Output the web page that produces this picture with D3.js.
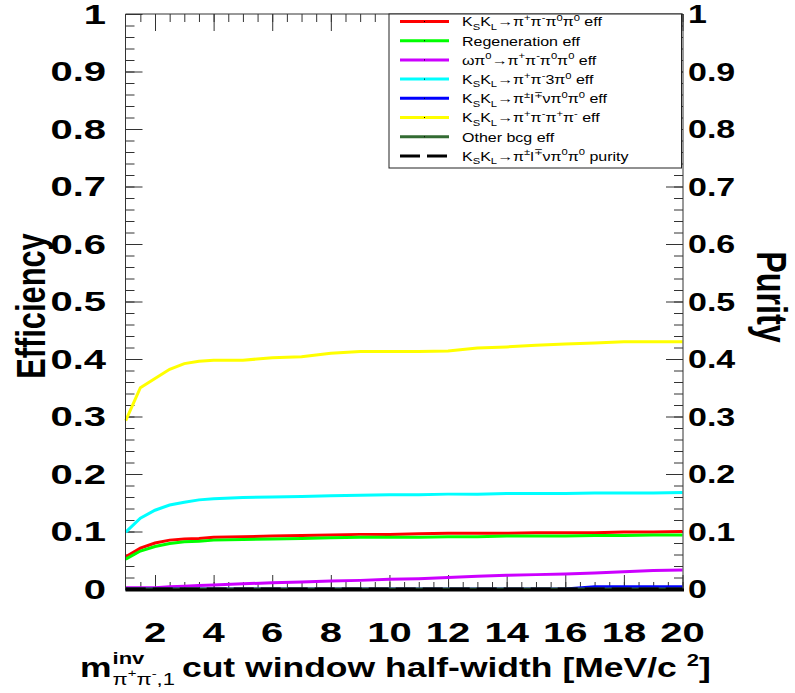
<!DOCTYPE html>
<html>
<head>
<meta charset="utf-8">
<script src="https://cdn.jsdelivr.net/npm/d3@7"></script>
<style>
  body { margin: 0; background: #fff; }
  text { font-family: "Liberation Sans", Arial, sans-serif; fill: #000; }
</style>
</head>
<body>
<div id="chart"></div>
<script>
// cut window half-width points
var cutWidth = [1, 1.5, 2, 2.5, 3, 3.5, 4, 5, 6, 7, 8, 9, 10, 11, 12, 13, 14, 15, 16, 17, 18, 19, 20];

var effSignal   = [0.056, 0.071, 0.080, 0.085, 0.087, 0.088, 0.090, 0.091, 0.092, 0.093, 0.094, 0.095, 0.095, 0.096, 0.097, 0.097, 0.097, 0.098, 0.098, 0.098, 0.099, 0.099, 0.100];
var effRegen    = [0.052, 0.066, 0.074, 0.079, 0.082, 0.083, 0.085, 0.086, 0.087, 0.088, 0.089, 0.090, 0.090, 0.090, 0.091, 0.091, 0.092, 0.092, 0.092, 0.093, 0.093, 0.094, 0.094];
var effOmega    = [0.002, 0.002, 0.002, 0.004, 0.005, 0.006, 0.007, 0.009, 0.011, 0.012, 0.014, 0.015, 0.017, 0.018, 0.020, 0.022, 0.024, 0.025, 0.026, 0.028, 0.030, 0.032, 0.033];
var eff3pi0     = [0.099, 0.123, 0.137, 0.146, 0.151, 0.155, 0.157, 0.159, 0.160, 0.161, 0.162, 0.163, 0.164, 0.164, 0.165, 0.165, 0.166, 0.166, 0.166, 0.167, 0.167, 0.167, 0.168];
var effSemi     = [0, 0, 0, 0, 0, 0, 0, 0, 0, 0, 0, 0, 0, 0, 0, 0, 0, 0, 0, 0.004, 0.004, 0.004, 0.004];
var eff4pic     = [0.293, 0.350, 0.366, 0.382, 0.392, 0.396, 0.398, 0.398, 0.402, 0.404, 0.410, 0.413, 0.413, 0.413, 0.414, 0.419, 0.421, 0.424, 0.426, 0.428, 0.430, 0.430, 0.430];
var effOther    = [0, 0, 0, 0, 0, 0, 0, 0, 0, 0, 0, 0, 0, 0, 0, 0, 0, 0, 0, 0, 0, 0, 0];
var puritySemi  = [0, 0, 0, 0, 0, 0, 0, 0, 0, 0, 0, 0, 0, 0, 0, 0, 0, 0, 0, 0, 0, 0, 0];

var xTicks = [2, 4, 6, 8, 10, 12, 14, 16, 18, 20];
var yTicks = [0, 0.1, 0.2, 0.3, 0.4, 0.5, 0.6, 0.7, 0.8, 0.9, 1];

// legend labels: [text, "" | "b" (subscript) | "p" (superscript)]
var legendLabels = [
  [["K",""],["S","b"],["K",""],["L","b"],["\u2192\u03c0",""],["+","p"],["\u03c0",""],["-","p"],["\u03c0",""],["0","p"],["\u03c0",""],["0","p"],[" eff",""]],
  [["Regeneration eff",""]],
  [["\u03c9\u03c0",""],["0","p"],["\u2192\u03c0",""],["+","p"],["\u03c0",""],["-","p"],["\u03c0",""],["0","p"],["\u03c0",""],["0","p"],[" eff",""]],
  [["K",""],["S","b"],["K",""],["L","b"],["\u2192\u03c0",""],["+","p"],["\u03c0",""],["-","p"],["3\u03c0",""],["0","p"],[" eff",""]],
  [["K",""],["S","b"],["K",""],["L","b"],["\u2192\u03c0",""],["\u00b1","p"],["l",""],["\u2213","p"],["\u03bd\u03c0",""],["0","p"],["\u03c0",""],["0","p"],[" eff",""]],
  [["K",""],["S","b"],["K",""],["L","b"],["\u2192\u03c0",""],["+","p"],["\u03c0",""],["-","p"],["\u03c0",""],["+","p"],["\u03c0",""],["-","p"],[" eff",""]],
  [["Other bcg eff",""]],
  [["K",""],["S","b"],["K",""],["L","b"],["\u2192\u03c0",""],["\u00b1","p"],["l",""],["\u2213","p"],["\u03bd\u03c0",""],["0","p"],["\u03c0",""],["0","p"],[" purity",""]]
];

var series = [
  {values: effSignal,  color: "#ff0000", dash: null},
  {values: effRegen,   color: "#00ff00", dash: null},
  {values: effOmega,   color: "#cc00ff", dash: null},
  {values: eff3pi0,    color: "#00ffff", dash: null},
  {values: effSemi,    color: "#0000ff", dash: null},
  {values: eff4pic,    color: "#ffff00", dash: null},
  {values: effOther,   color: "#336b33", dash: null},
  {values: puritySemi, color: "#000000", dash: "20,7"}
];

var W = 795, H = 693;
var sy = 0.77;   // vertical squash of all text
var padL = 125.5, padR = 683, padT = 14, padB = 589;

var svg = d3.select("#chart").append("svg")
    .attr("width", W)
    .attr("height", H);

var x = d3.scaleLinear().domain([1, 20]).range([padL + 0.2, 682.5]);
var y = d3.scaleLinear().domain([0, 1]).range([padB, padT]);

function stext(px, py, str, size, weight, anchor, sq) {
  sq = sq || sy;
  return svg.append("text")
    .attr("transform", "translate(" + px + "," + py + ") scale(1," + sq + ")")
    .attr("text-anchor", anchor)
    .style("font-size", size + "px")
    .style("font-weight", weight)
    .text(str);
}

function tickFmt(d) { return (d === 0 || d === 1) ? String(d) : d.toFixed(1); }

// ---- ticks (inward) ----
var minorX = d3.range(1.5, 20.01, 0.5);
var minorY = d3.range(0, 1.001, 0.02);
var tickCol = "#333";

svg.append("g").attr("transform", "translate(0," + padB + ")")
  .call(d3.axisTop(x).tickValues(minorX).tickSize(7).tickFormat(""));
svg.append("g").attr("transform", "translate(0," + padB + ")")
  .call(d3.axisTop(x).tickValues(xTicks).tickSize(14).tickFormat(""));
svg.append("g").attr("transform", "translate(0," + padT + ")")
  .call(d3.axisBottom(x).tickValues(minorX).tickSize(8).tickFormat(""));
svg.append("g").attr("transform", "translate(0," + padT + ")")
  .call(d3.axisBottom(x).tickValues(xTicks).tickSize(17).tickFormat(""));
svg.append("g").attr("transform", "translate(" + padL + ",0)")
  .call(d3.axisRight(y).tickValues(minorY).tickSize(9).tickFormat(""));
svg.append("g").attr("transform", "translate(" + padL + ",0)")
  .call(d3.axisRight(y).tickValues(yTicks).tickSize(17).tickFormat(""));
svg.append("g").attr("transform", "translate(" + padR + ",0)")
  .call(d3.axisLeft(y).tickValues(minorY).tickSize(9).tickFormat(""));
svg.append("g").attr("transform", "translate(" + padR + ",0)")
  .call(d3.axisLeft(y).tickValues(yTicks).tickSize(17).tickFormat(""));
svg.selectAll(".domain").remove();
svg.selectAll(".tick line").attr("stroke", tickCol);

// ---- curves ----
var line = d3.line()
  .x(function (d, i) { return x(cutWidth[i]); })
  .y(function (d) { return y(d); });

series.forEach(function (s) {
  svg.append("path")
    .datum(s.values)
    .attr("d", line)
    .attr("fill", "none")
    .attr("stroke", s.color)
    .attr("stroke-width", 3)
    .attr("stroke-dasharray", s.dash);
});

// ---- frame ----
svg.append("line").attr("x1", padL).attr("x2", padR).attr("y1", padT).attr("y2", padT).attr("stroke", tickCol);
svg.append("line").attr("x1", padL).attr("x2", padL).attr("y1", padT).attr("y2", padB).attr("stroke", tickCol);
svg.append("line").attr("x1", padR).attr("x2", padR).attr("y1", padT).attr("y2", padB).attr("stroke", tickCol);
svg.append("line").attr("x1", padL).attr("x2", padR + 1).attr("y1", padB + 1).attr("y2", padB + 1)
  .attr("stroke", "#000").attr("stroke-width", 3);

// ---- legend ----
var lg = {x0: 389, x1: 681.5, y0: 14, y1: 168};
svg.append("rect")
  .attr("x", lg.x0).attr("y", lg.y0)
  .attr("width", lg.x1 - lg.x0).attr("height", lg.y1 - lg.y0)
  .attr("fill", "#fff").attr("stroke", "#222").attr("stroke-width", 1);

var lgSize = 16, lgSy = 0.84;
legendLabels.forEach(function (segs, i) {
  var ry = 21.5 + i * 19.2;
  var s = series[i];
  svg.append("line")
    .attr("x1", 400).attr("x2", 449).attr("y1", ry).attr("y2", ry)
    .attr("stroke", s.color).attr("stroke-width", 3)
    .attr("stroke-dasharray", s.dash);
  // tiny marker in the middle of the solid sample lines
  if (!s.dash) {
    svg.append("rect")
      .attr("x", 424).attr("y", ry - 0.5).attr("width", 1).attr("height", 1)
      .attr("fill", "#000");
  }
  var t = stext(462, ry + 0.36 * lgSize * lgSy, "", lgSize, "normal", "start", lgSy);
  var shift = 0;
  segs.forEach(function (sg) {
    var target = sg[1] === "p" ? -0.4 * lgSize : (sg[1] === "b" ? 0.25 * lgSize : 0);
    t.append("tspan")
      .attr("dy", target - shift)
      .style("font-size", (sg[1] ? lgSize * 0.7 : lgSize) + "px")
      .text(sg[0]);
    shift = target;
  });
});

// ---- tick labels ----
var lblSize = 40, lblSy = 0.68;   // frame axes
var rLblSize = 34;                // right-hand purity axis
yTicks.forEach(function (d) {
  stext(106, y(d) + 0.36 * lblSize * lblSy, tickFmt(d), lblSize, "bold", "end", lblSy);
  stext(688, y(d) + 0.36 * rLblSize * sy, tickFmt(d), rLblSize, "bold", "start");
});
xTicks.forEach(function (d) {
  stext(x(d), 642, String(d), lblSize, "bold", "middle", lblSy);
});

// ---- axis titles ----
svg.append("text")
  .attr("transform", "translate(45,306) scale(1," + sy + ") rotate(-90)")
  .attr("text-anchor", "middle")
  .style("font-size", "40px").style("font-weight", "bold")
  .text("Efficiency");

svg.append("text")
  .attr("transform", "translate(757,297) scale(1," + sy + ") rotate(90)")
  .attr("text-anchor", "middle")
  .style("font-size", "42px").style("font-weight", "bold")
  .text("Purity");

var tSize = 35.5;
var xt = svg.append("g").attr("transform", "translate(80,677) scale(1," + sy + ")");
var mTxt = xt.append("text").style("font-size", tSize + "px").style("font-weight", "bold").text("m");
var mW = mTxt.node().getComputedTextLength();
var supTxt = xt.append("text").attr("x", mW + 1).attr("y", -0.48 * tSize)
  .style("font-size", (tSize * 0.62) + "px").style("font-weight", "bold").text("inv");
var subTxt = xt.append("text").attr("x", mW + 1).attr("y", 0.3 * tSize)
  .style("font-size", (tSize * 0.62) + "px").style("font-weight", "normal");
[["\u03c0",0],["+",1],["\u03c0",0],["-",1],[",1",0]].forEach(function (p, i, arr) {
  var prev = i > 0 ? arr[i - 1][1] : 0;
  subTxt.append("tspan")
    .attr("dy", (p[1] - prev) * -0.3 * tSize)
    .style("font-size", (p[1] ? tSize * 0.42 : tSize * 0.62) + "px")
    .text(p[0]);
});
var scriptW = Math.max(supTxt.node().getComputedTextLength(), subTxt.node().getComputedTextLength());
var restX = mW + 1 + scriptW + 7;
var rest = xt.append("text").attr("x", restX)
  .style("font-size", tSize + "px").style("font-weight", "bold");
rest.append("tspan").text("cut window half-width [MeV/c ");
rest.append("tspan").attr("dy", -0.4 * tSize).style("font-size", (tSize * 0.62) + "px").text("2");
rest.append("tspan").attr("dy", 0.4 * tSize).text("]");
</script>
</body>
</html>
